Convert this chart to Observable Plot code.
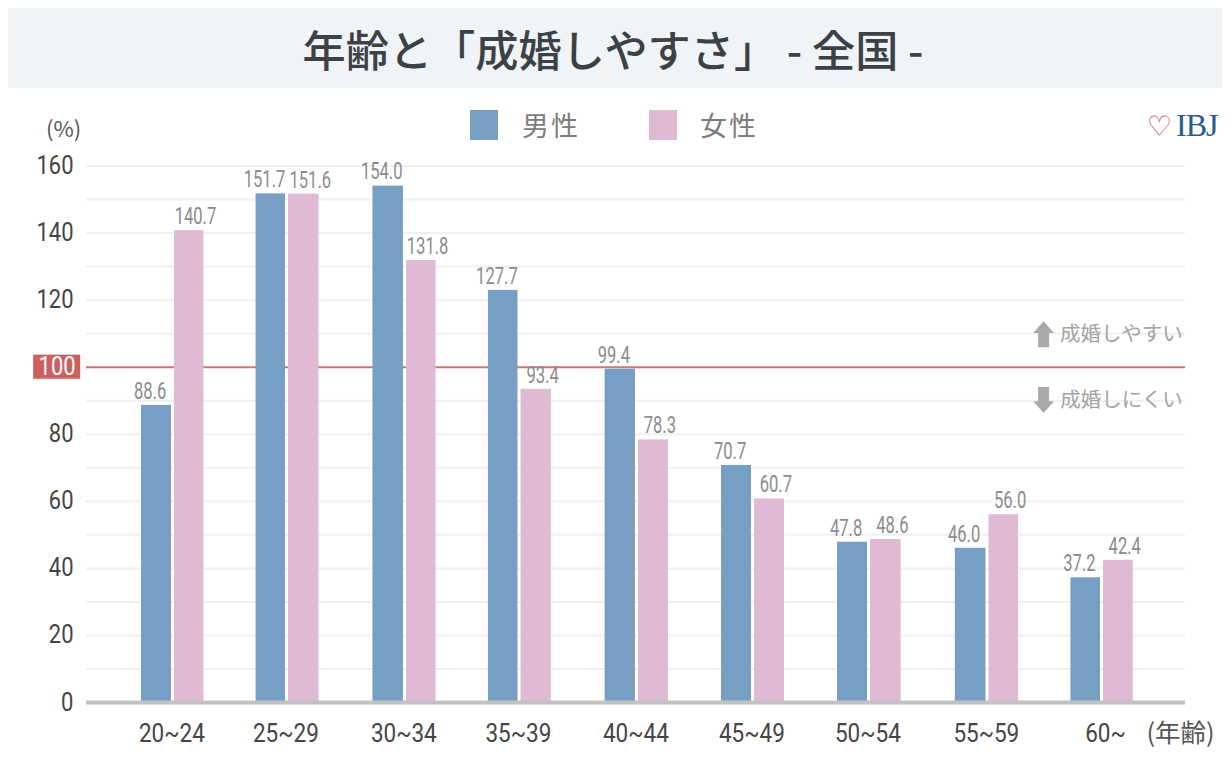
<!DOCTYPE html>
<html lang="ja"><head><meta charset="utf-8">
<script src="https://cdn.jsdelivr.net/npm/d3@7"></script>
<script src="https://cdn.jsdelivr.net/npm/@observablehq/plot@0.6"></script>
<style>
html,body{margin:0;padding:0;background:#fff;width:1230px;height:766px;overflow:hidden;font-family:"Noto Sans CJK JP","Noto Sans",sans-serif}
#head{position:absolute;left:8px;top:8px;width:1214px;height:80px;background:#f0f4f7;color:#3c4146;font-size:43.2px;font-weight:500;line-height:80px;text-align:center;box-sizing:border-box;padding-right:4px;white-space:nowrap}
#chart{position:absolute;left:0;top:90px}
#legend{position:absolute;left:0;top:0}
.sw{position:absolute;top:110px;width:28px;height:30px}
.lg{position:absolute;top:104px;font-size:27px;line-height:42px;color:#7c7c7c;letter-spacing:2px;white-space:nowrap}
#logo{position:absolute;left:1147px;top:106px;line-height:38px;white-space:nowrap}
#logo .h{color:#c9565e;font-size:28px;font-weight:bold;font-family:"DejaVu Sans";}
#logo .t{color:#2b5a8c;font-size:32px;font-family:"Liberation Serif";letter-spacing:-1px;margin-left:4px}
</style></head><body>
<div id="head">年齢と「成婚しやすさ」 - 全国 -</div>
<div id="chart"></div>
<div id="legend"></div>
<div id="logo"><span class="h">♡</span><span class="t">IBJ</span></div>
<script>
const ages = ["20~24","25~29","30~34","35~39","40~44","45~49","50~54","55~59","60~"];
const maleBars = [88.6,151.7,154.0,122.9,99.4,70.7,47.8,46.0,37.2];
const femaleBars = [140.7,151.6,131.8,93.4,78.3,60.7,48.6,56.0,42.4];
const maleLabels = ["88.6","151.7","154.0","127.7","99.4","70.7","47.8","46.0","37.2"];
const femaleLabels = ["140.7","151.6","131.8","93.4","78.3","60.7","48.6","56.0","42.4"];
const yTicks = [0,20,40,60,80,120,140,160];
const gridLines = d3.range(10,170,10).filter(v=>v!==100);
const blue="#769fc3", pink="#e0b9d4";
const latin='"Roboto","Noto Sans",sans-serif';
const cjk='"Noto Sans CJK JP","Noto Sans",sans-serif';
const halfBar=0.2715, halfGap=0.013, labelSpread=0.055;

const rows = ages.flatMap((a,i)=>[
  {i,x1:i-halfBar,x2:i-halfGap,v:maleBars[i],label:maleLabels[i],fill:blue,lx:-labelSpread},
  {i,x1:i+halfGap,x2:i+halfBar,v:femaleBars[i],label:femaleLabels[i],fill:pink,lx:labelSpread}
]);

// Block arrow drawn through Plot's custom dot symbol
const arrow = dir => ({draw(c,size){
  const r=Math.sqrt(size/Math.PI), s=dir;
  c.moveTo(0,-r*s); c.lineTo(r*.8,-r*.1*s); c.lineTo(r*.42,-r*.1*s); c.lineTo(r*.42,r*s);
  c.lineTo(-r*.42,r*s); c.lineTo(-r*.42,-r*.1*s); c.lineTo(-r*.8,-r*.1*s); c.closePath();
}});

const xEnd=[-0.745,8.724];
const plot = Plot.plot({
  width:1230,height:676,
  marginLeft:0,marginRight:0,marginTop:0,marginBottom:0,
  style:{fontFamily:latin,background:"transparent"},
  x:{type:"linear",domain:[xEnd[0],0,1,2,3,4,5,6,7,8,xEnd[1]],range:[86,172.5,286.5,404.5,519,636.5,752.5,868.5,987,1101.5,1185],axis:null},
  y:{domain:[0,160],range:[612,75.5],axis:null},
  marks:[
    Plot.ruleY(gridLines.concat([160]),{x1:xEnd[0],x2:xEnd[1],stroke:"#f0f0f0",strokeWidth:2}),
    Plot.ruleY([100],{x1:xEnd[0],x2:xEnd[1],stroke:"#d9716f",strokeWidth:2}),
    Plot.rectY(rows,{x1:"x1",x2:"x2",y1:0,y2:"v",fill:"fill"}),
    Plot.ruleY([0],{x1:xEnd[0],x2:xEnd[1],stroke:"#c2c2c2",strokeWidth:4}),
    Plot.text(rows,{x:d=>(d.x1+d.x2)/2+d.lx,y:"v",text:"label",dy:-14,fontSize:23,fill:"#8c8c8c",className:"sq72"}),
    Plot.text(yTicks,{x:xEnd[0],y:d=>d,dx:-13,textAnchor:"end",fontSize:25,fill:"#454545",className:"sq88"}),
    Plot.rect([{}],{x1:-1.2,x2:-0.795,y1:96.4,y2:103.6,fill:"#cf5f5f"}),
    Plot.text(["100"],{x:-0.998,y:100,fontSize:25,fill:"#fff",className:"sq88"}),
    Plot.text(["(%)"],{x:-0.943,y:170.8,fontSize:22,fill:"#555",fontFamily:cjk}),
    Plot.text(ages,{x:(d,i)=>i===8?i+0.03:i-0.01,y:0,dy:31,fontSize:25,fill:"#454545",className:"sq90"}),
    Plot.text(["(年齢)"],{x:8.385,y:0,dy:31,fontSize:25.5,fill:"#555",textAnchor:"start",fontFamily:cjk}),
    Plot.text(["成婚しやすい"],{x:8.7,y:109.8,textAnchor:"end",fontSize:20.5,fill:"#a3a3a3",fontFamily:cjk}),
    Plot.text(["成婚しにくい"],{x:8.7,y:90.2,textAnchor:"end",fontSize:20.5,fill:"#a3a3a3",fontFamily:cjk}),
    Plot.dot([{}],{x:7.49,y:109.8,r:13,fill:"#a9a9a9",symbol:arrow(1)}),
    Plot.dot([{}],{x:7.49,y:90.2,r:13,fill:"#a9a9a9",symbol:arrow(-1)})
  ]
});
document.getElementById("chart").append(plot);
// The reference's digits are a condensed face: squeeze Roboto to the same widths
[["sq72",.72],["sq88",.88],["sq90",.90]].forEach(([c,k])=>{
  plot.querySelectorAll("."+c+" text").forEach(t=>{
    t.setAttribute("textLength",(t.getComputedTextLength()*k).toFixed(1));
    t.setAttribute("lengthAdjust","spacingAndGlyphs");
  });
});
const legend=document.getElementById("legend");
[["男性",blue,470,522],["女性",pink,649,700]].forEach(([name,c,sx,tx])=>{
  const s=document.createElement("div");s.className="sw";s.style.left=sx+"px";s.style.background=c;legend.append(s);
  const t=document.createElement("div");t.className="lg";t.style.left=tx+"px";t.textContent=name;legend.append(t);
});
</script>
</body></html>
